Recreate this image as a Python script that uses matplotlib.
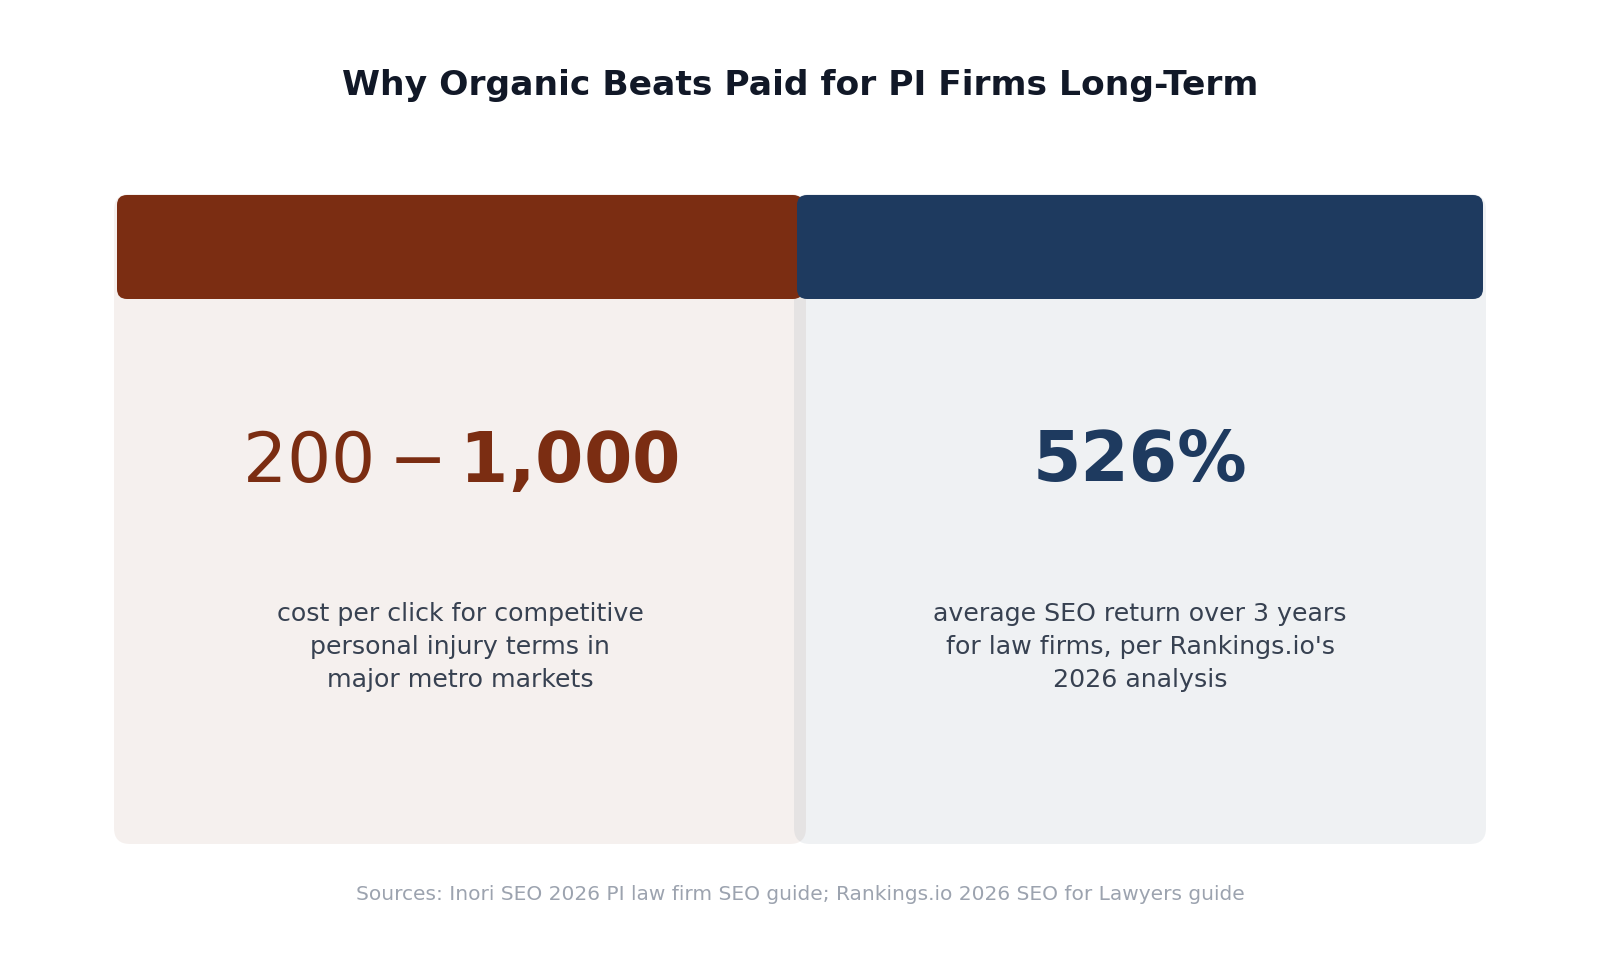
import matplotlib
matplotlib.use('Agg')
import matplotlib.pyplot as plt
from matplotlib.patches import FancyBboxPatch

title = 'Why Organic Beats Paid for PI Firms Long-Term'
stat_values = ['$200-$1,000', '526%']
stat_labels = [
    'cost per click for competitive\npersonal injury terms in\nmajor metro markets',
    "average SEO return over 3 years\nfor law firms, per Rankings.io's\n2026 analysis",
]
accent_colors = ['#7B2D12', '#1E3A5F']
source_note = 'Sources: Inori SEO 2026 PI law firm SEO guide; Rankings.io 2026 SEO for Lawyers guide'

plt.rcParams['font.family'] = ['DejaVu Sans']


def main():
    W, H = 1600, 978
    fig = plt.figure(figsize=(W / 100, H / 100), dpi=100)
    ax = fig.add_axes([0, 0, 1, 1])
    ax.set_xlim(0, W)
    ax.set_ylim(H, 0)
    ax.axis('off')

    ax.text(W / 2, 86, title, ha='center', va='center', fontsize=24.8,
            fontweight='bold', color='#111827')

    card_w = 692
    card_x = [114, 794]
    top, bottom = 195, 845
    for i, x0 in enumerate(card_x):
        c = accent_colors[i]
        # card body, translucent so the overlap shows darker
        ax.add_patch(FancyBboxPatch((x0, top), card_w, bottom - top,
                                    boxstyle='round,pad=0,rounding_size=16',
                                    fc=c, alpha=0.072, ec='none', zorder=1))
        ax.add_patch(FancyBboxPatch((x0 + 3, top + 1), card_w - 6, 104,
                                    boxstyle='round,pad=0,rounding_size=10',
                                    fc=c, ec='none', zorder=2))
        cx = x0 + card_w / 2
        ax.text(cx, 462, stat_values[i], ha='center', va='center', fontsize=50,
                fontweight='bold', color=c, zorder=3)
        ax.text(cx, 647, stat_labels[i], ha='center', va='center', fontsize=18.2,
                color='#374151', linespacing=1.5, zorder=3)

    ax.text(W / 2, 895, source_note, ha='center', va='center', fontsize=14.5,
            color='#9CA3AF')

    fig.savefig('out.png', dpi=100, facecolor='white')


if __name__ == '__main__':
    main()
